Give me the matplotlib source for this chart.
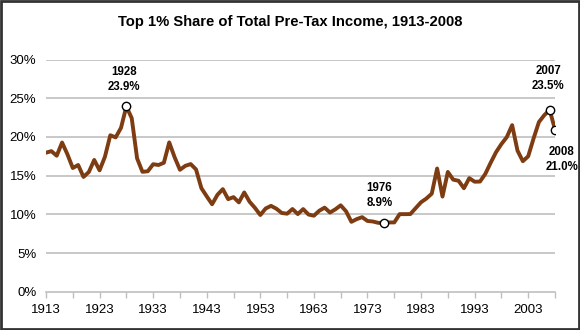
import matplotlib
matplotlib.use("Agg")
import matplotlib.pyplot as plt
from matplotlib.patches import Rectangle
import numpy as np

# Top 1% share of pre-tax income (incl. capital gains), percent
years = np.arange(1913, 2009)
share = [
    17.96, 18.16, 17.57, 19.27, 17.75, 15.98, 16.37, 14.83, 15.47, 17.02,
    15.68, 17.44, 20.21, 19.94, 21.17, 23.94, 22.42, 17.23, 15.49, 15.56,
    16.47, 16.37, 16.66, 19.29, 17.38, 15.75, 16.26, 16.49, 15.80, 13.38,
    12.32, 11.30, 12.52, 13.25, 11.96, 12.22, 11.54, 12.82, 11.62, 10.83,
    9.91, 10.75, 11.09, 10.72, 10.17, 10.08, 10.68, 10.03, 10.67, 9.97,
    9.82, 10.46, 10.86, 10.23, 10.64, 11.16, 10.39, 9.03, 9.38, 9.63,
    9.14, 9.07, 8.90, 8.87, 8.95, 8.95, 10.02, 10.02, 10.03, 10.80,
    11.56, 12.04, 12.67, 15.92, 12.29, 15.47, 14.48, 14.33, 13.37, 14.67,
    14.21, 14.23, 15.23, 16.67, 18.03, 19.08, 19.97, 21.52, 18.23, 16.86,
    17.50, 19.80, 21.92, 22.81, 23.50, 20.95,
]
marked_years = [1928, 1976, 2007, 2008]
marked_labels = ["1928\n23.9%", "1976\n8.9%", "2007\n23.5%", "2008\n21.0%"]
label_offsets = [(-2, 10), (-3, 10), (-1, 13), (5, -12)]  # points
label_va = ["bottom", "bottom", "bottom", "top"]

plt.rcParams["font.family"] = ["Liberation Sans", "DejaVu Sans"]

fig = plt.figure(figsize=(5.8, 3.3), dpi=100)
ax = fig.add_axes([46 / 580, 1 - 291.7 / 330, (555 - 46) / 580, (291.7 - 59.5) / 330])

line_color = "#7E3C12"
grid_color = "#BFBFBF"

ax.plot(years, share, color=line_color, linewidth=2.8, solid_joinstyle="round", zorder=3)

idx = [list(years).index(y) for y in marked_years]
mx = [years[i] for i in idx]
my = [share[i] for i in idx]
ax.plot(mx, my, linestyle="none", marker="o", markersize=6,
        markerfacecolor="white", markeredgecolor="black", markeredgewidth=1.0, zorder=4)
for x, y, lab, off, va in zip(mx, my, marked_labels, label_offsets, label_va):
    ax.annotate(lab, (x, y), xytext=off, textcoords="offset points",
                ha="center", va=va, fontsize=8.3, fontweight="bold",
                linespacing=1.3, annotation_clip=False)

ax.set_xlim(1913, 2008)
ax.set_ylim(0, 30)
ax.set_yticks(np.arange(0, 31, 5))
ax.set_yticklabels([f"{v}%" for v in range(0, 31, 5)])
ax.set_xticks(np.arange(1913, 2009, 5))
ax.set_xticklabels([str(y) if (y - 1913) % 10 == 0 else "" for y in range(1913, 2009, 5)])

for v in range(5, 31, 5):
    ax.axhline(v, color=grid_color, linewidth=1.2, zorder=1)

for s in ["top", "right", "left"]:
    ax.spines[s].set_visible(False)
ax.spines["bottom"].set_color(grid_color)
ax.spines["bottom"].set_linewidth(1.2)
ax.tick_params(axis="x", direction="out", length=4, width=1, color=grid_color,
               labelsize=9.5, pad=5)
ax.tick_params(axis="y", length=0, labelsize=9.5, pad=7)

fig.text(0.5, 1 - 22 / 330, "Top 1% Share of Total Pre-Tax Income, 1913-2008",
         ha="center", va="center", fontsize=10.6, fontweight="bold")

fig.patches.append(Rectangle((0.002, 0.003), 0.996, 0.994, transform=fig.transFigure,
                             fill=False, edgecolor="#333333", linewidth=2))

fig.savefig("out.png", dpi=100)
